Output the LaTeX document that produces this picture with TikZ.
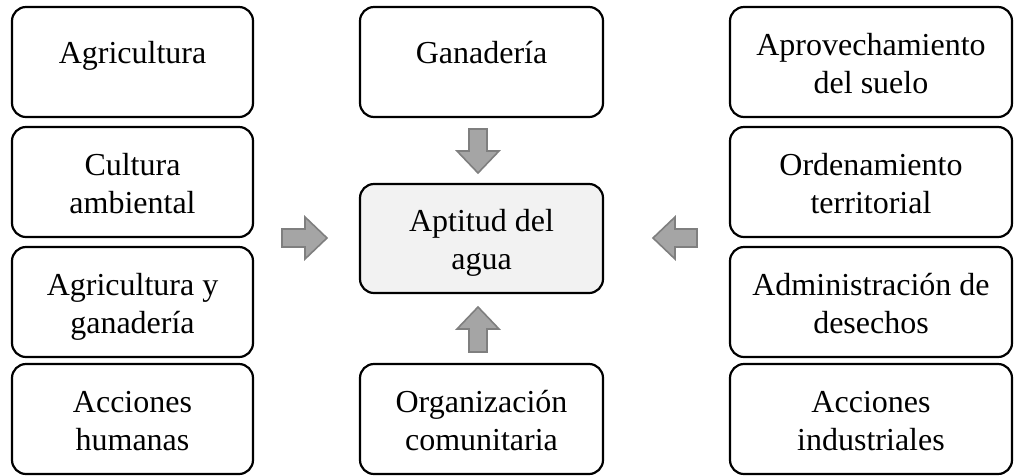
\documentclass[tikz,border=0pt]{standalone}
\usepackage{fontspec}
\setmainfont{Liberation Serif}
\definecolor{arrfill}{HTML}{A5A5A5}
\definecolor{arrdraw}{HTML}{7F7F7F}
\definecolor{centerfill}{HTML}{F2F2F2}
\newcommand{\mline}[1]{\raisebox{0pt}[28pt][4pt]{#1}}
\newcommand{\oneline}[1]{\raisebox{0pt}[20pt][18pt]{#1}}
\begin{document}
\begin{tikzpicture}[x=1pt,y=-1pt,
  boxstyle/.style={draw=black, line width=2.2pt, rounded corners=14pt, fill=white,
    inner sep=0pt, outer sep=0pt, minimum height=110pt, align=center,
    font=\fontsize{32}{38}\selectfont},
  leftcol/.style={boxstyle, minimum width=241pt},
  midcol/.style={boxstyle, minimum width=243pt},
  rightcol/.style={boxstyle, minimum width=282pt},
  blockarrow/.style={fill=arrfill, draw=arrdraw, line width=1.6pt, line join=miter}]
\useasboundingbox (0,0) rectangle (1016,475);
% left column
\node[leftcol] (a1) at (132.5,62) {\oneline{Agricultura}};
\node[leftcol] (a2) at (132.5,182) {\mline{Cultura}\\\mline{ambiental}};
\node[leftcol] (a3) at (132.5,302) {\mline{Agricultura y}\\\mline{ganadería}};
\node[leftcol] (a4) at (132.5,419) {\mline{Acciones}\\\mline{humanas}};
% middle column
\node[midcol] (m1) at (481.5,62) {\oneline{Ganadería}};
\node[midcol, fill=centerfill, minimum height=109pt] (m2) at (481.5,238.5) {\mline{Aptitud del}\\\mline{agua}};
\node[midcol] (m3) at (481.5,419) {\mline{Organización}\\\mline{comunitaria}};
% right column
\node[rightcol] (r1) at (871,62) {\mline{Aprovechamiento}\\\mline{del suelo}};
\node[rightcol] (r2) at (871,182) {\mline{Ordenamiento}\\\mline{territorial}};
\node[rightcol] (r3) at (871,302) {\mline{Administración de}\\\mline{desechos}};
\node[rightcol] (r4) at (871,419) {\mline{Acciones}\\\mline{industriales}};
% block arrows
\draw[blockarrow] (282,229) -- (305,229) -- (305,217) -- (327,238) -- (305,259) -- (305,247) -- (282,247) -- cycle;
\draw[blockarrow] (697,229) -- (675,229) -- (675,217) -- (653,238) -- (675,259) -- (675,247) -- (697,247) -- cycle;
\draw[blockarrow] (469,129) -- (469,151) -- (457,151) -- (478,173) -- (499,151) -- (487,151) -- (487,129) -- cycle;
\draw[blockarrow] (469,352) -- (469,329) -- (457,329) -- (478,307) -- (499,329) -- (487,329) -- (487,352) -- cycle;
\end{tikzpicture}
\end{document}
